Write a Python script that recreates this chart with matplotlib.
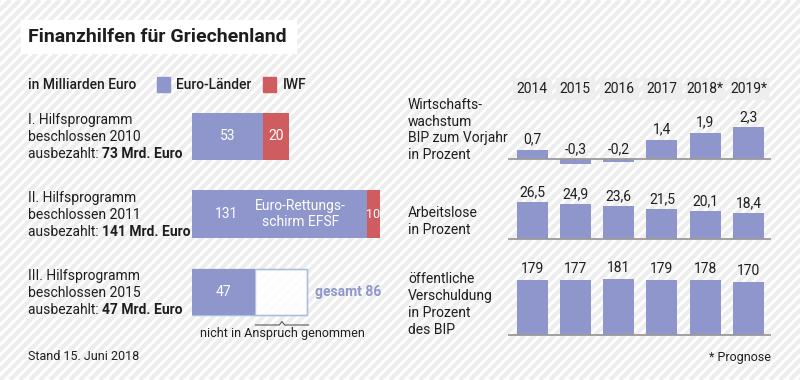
import matplotlib
matplotlib.use("Agg")
import matplotlib.pyplot as plt
from matplotlib.patches import Rectangle

plt.rcParams['font.family'] = ['Roboto', 'DejaVu Sans']

# ---------------- data ----------------
programs = ["I.", "II.", "III."]
prog_years = ["2010", "2011", "2015"]
prog_paid = [73, 141, 47]
euro_laender = [53, 131, 47]
iwf = [20, 10, 0]
total_iii = 86

years = ["2014", "2015", "2016", "2017", "2018*", "2019*"]
growth = [0.7, -0.3, -0.2, 1.4, 1.9, 2.3]
growth_lbl = ["0,7", "-0,3", "-0,2", "1,4", "1,9", "2,3"]
unemployment = [26.5, 24.9, 23.6, 21.5, 20.1, 18.4]
unemp_lbl = ["26,5", "24,9", "23,6", "21,5", "20,1", "18,4"]
debt = [179, 177, 181, 179, 178, 170]

PURPLE = "#8f96cc"
RED = "#cf5d5f"
TXT = "#1e1e1e"
W, H = 800, 380

fig = plt.figure(figsize=(8, 3.8), dpi=100)

def px_axes(x0, x1, yt, yb, z=1):
    return fig.add_axes([x0 / W, 1 - yb / H, (x1 - x0) / W, (yb - yt) / H], zorder=z)

# background axes in pixel coords
bg = fig.add_axes([0, 0, 1, 1], zorder=0)
bg.set_xlim(0, W)
bg.set_ylim(H, 0)
bg.axis("off")
bg.add_patch(Rectangle((0, 0), W, H, color="#ffffff", zorder=0))
for c in range(-420, 1220, 10):
    bg.plot([c, c + H], [H, 0], color="#ededed", lw=3.0, solid_capstyle="butt", zorder=1)

# title box
bg.add_patch(Rectangle((21, 20), 275, 33, color="white", zorder=2))
bg.text(28, 37, "Finanzhilfen für Griechenland", fontsize=14, fontweight="bold",
        color=TXT, va="center", ha="left", zorder=3)

# legend
bg.text(28, 85, "in Milliarden Euro", fontsize=10, fontweight="medium", color=TXT,
        va="center", zorder=3)
bg.add_patch(Rectangle((157, 77), 13, 15, color=PURPLE, zorder=3))
bg.text(176, 85, "Euro-Länder", fontsize=10, fontweight="medium", color=TXT, va="center", zorder=3)
bg.add_patch(Rectangle((263, 77), 13, 15, color=RED, zorder=3))
bg.text(283, 85, "IWF", fontsize=10, fontweight="medium", color=TXT, va="center", zorder=3)

# program labels
prog_y = [120, 198, 276]
for i, y in enumerate(prog_y):
    bg.text(28, y, f"{programs[i]} Hilfsprogramm", fontsize=10, color=TXT, va="center", zorder=3)
    bg.text(28, y + 17, f"beschlossen {prog_years[i]}", fontsize=10, color=TXT, va="center", zorder=3)
    t = bg.text(28, y + 34, "ausbezahlt: ", fontsize=10, color=TXT, va="center", zorder=3)
    bg.annotate(f"{prog_paid[i]} Mrd. Euro", xycoords=t, xy=(1, 0), va="bottom",
                fontsize=10, fontweight="bold", color=TXT, zorder=3)

bg.text(28, 357, "Stand 15. Juni 2018", fontsize=9, color=TXT, va="center", zorder=3)

# ---------------- left bar chart ----------------
scale_l = 1.333  # px per Mrd
lax = px_axes(192, 400, 100, 330, z=2)
lax.set_xlim(0, 208 / scale_l)
lax.set_ylim(330, 100)
lax.axis("off")
bar_y = [136.5, 214, 292]
bar_h = [47, 48, 46]
lax.barh(bar_y, euro_laender, height=bar_h, color=PURPLE)
lax.barh(bar_y[:2], iwf[:2], left=euro_laender[:2], height=bar_h[:2], color=RED)
# unused portion of programme III
lax.barh([bar_y[2]], [total_iii - euro_laender[2]], left=euro_laender[2], height=bar_h[2],
         color="white", alpha=0.85, edgecolor="#a9c0da", linewidth=1.0)
lax.barh([bar_y[2]], [total_iii], height=bar_h[2], fill=False, edgecolor="#a9c0da", linewidth=1.0)
lax.barh([bar_y[2]], euro_laender[2:], height=bar_h[2], color=PURPLE)

for i in range(3):
    if i == 1:
        lax.text(euro_laender[i] * 0.2, bar_y[i], f"{euro_laender[i]}", color="white",
                 fontsize=10, ha="center", va="center")
        lax.text(euro_laender[i] * 0.62, bar_y[i], "Euro-Rettungs-\nschirm EFSF", color="white",
                 fontsize=10, ha="center", va="center", linespacing=1.1)
    else:
        lax.text(euro_laender[i] / 2, bar_y[i], f"{euro_laender[i]}", color="white",
                 fontsize=10, ha="center", va="center")
    if iwf[i]:
        lax.text(euro_laender[i] + iwf[i] / 2, bar_y[i], f"{iwf[i]}", color="white",
                 fontsize=9 if iwf[i] < 15 else 10, ha="center", va="center")

lax.text(total_iii + 6.5, bar_y[2], f"gesamt {total_iii}", color=PURPLE, fontsize=10,
         fontweight="bold", ha="left", va="center")
# bracket for unused part
bx0, bx1 = euro_laender[2] + 0.5, total_iii + 1.5
bm = (bx0 + bx1) / 2
lax.plot([bx0, bm - 2, bm, bm + 2, bx1], [325, 325, 321.5, 325, 325], color="#444444", lw=0.7)
lax.text(bm, 334, "nicht in Anspruch genommen", fontsize=9, color=TXT, ha="center", va="center")

# ---------------- right charts ----------------
x0r, x1r = 508, 771
c0, step = 532, 43.3
xl = ((x0r - c0) / step, (x1r - c0) / step)
idx = list(range(len(years)))
BW = 31 / step

# year headers
for i, yr in enumerate(years):
    cx = c0 + step * i
    bg.add_patch(Rectangle((cx - 19, 78), 38, 21, color="#eeeeee", zorder=2))
    bg.text(cx, 89, yr, fontsize=10, color=TXT, ha="center", va="center", zorder=3)

def right_axes(base_px, top_px, bot_px, scale):
    ax = px_axes(x0r, x1r, top_px, bot_px, z=2)
    ax.set_xlim(*xl)
    ax.set_ylim(-(bot_px - base_px) / scale, (base_px - top_px) / scale)
    ax.axis("off")
    ax.axhline(0, color="#9a9a9a", lw=1.3, zorder=3)
    return ax

# growth
g_base, g_scale = 159.3, 14.0
gax = right_axes(g_base, 110, 170, g_scale)
gax.bar(idx, growth, width=BW, color=PURPLE, zorder=2)
for i, v in enumerate(growth):
    top = max(v, 0)
    gax.text(i, top + 10 / g_scale, growth_lbl[i], fontsize=10, color=TXT, ha="center", va="center")

# unemployment
u_base, u_scale = 239, 1.39
uax = right_axes(u_base, 180, 245, u_scale)
uax.bar(idx, unemployment, width=BW, color=PURPLE, zorder=2)
for i, v in enumerate(unemployment):
    uax.text(i, v + 10 / u_scale, unemp_lbl[i], fontsize=10, color=TXT, ha="center", va="center")

# debt
d_base, d_scale = 335, 0.309
dax = right_axes(d_base, 255, 340, d_scale)
dax.bar(idx, debt, width=BW, color=PURPLE, zorder=2)
for i, v in enumerate(debt):
    dax.text(i, v + 11 / d_scale, f"{v}", fontsize=10, color=TXT, ha="center", va="center")

# right row labels
rx = 408
for j, s in enumerate(["Wirtschafts-", "wachstum", "BIP zum Vorjahr", "in Prozent"]):
    bg.text(rx, 105 + 16.7 * j, s, fontsize=10, color=TXT, va="center", zorder=3)
for j, s in enumerate(["Arbeitslose", "in Prozent"]):
    bg.text(rx, 213 + 17 * j, s, fontsize=10, color=TXT, va="center", zorder=3)
for j, s in enumerate(["öffentliche", "Verschuldung", "in Prozent", "des BIP"]):
    bg.text(rx, 279 + 17 * j, s, fontsize=10, color=TXT, va="center", zorder=3)
bg.text(771, 358, "* Prognose", fontsize=9, color=TXT, ha="right", va="center", zorder=3)

fig.savefig("out.png", dpi=100)
